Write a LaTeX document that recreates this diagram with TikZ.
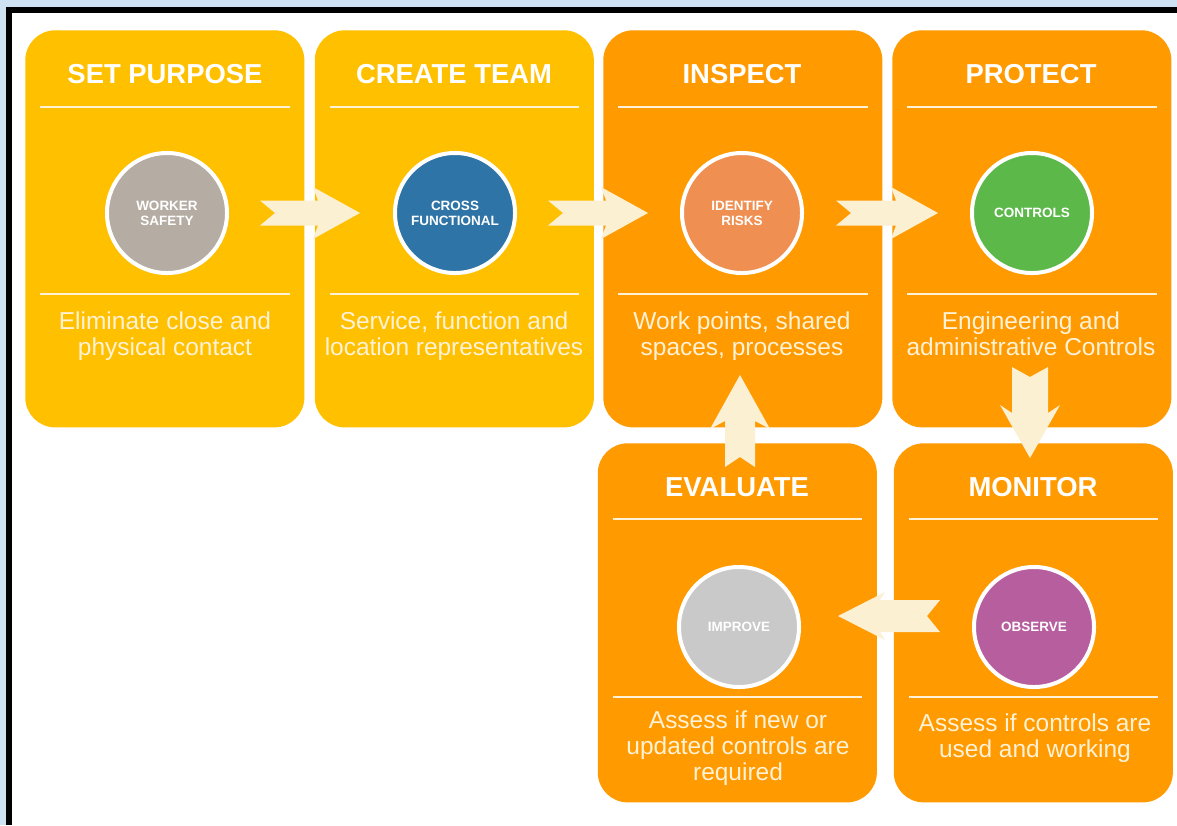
\documentclass[tikz,border=0pt]{standalone}
\usepackage{fontspec}
\setmainfont{Liberation Sans}
\usetikzlibrary{calc}

\definecolor{bgblue}{HTML}{CFE2F3}
\definecolor{boxyellow}{HTML}{FFC000}
\definecolor{boxorange}{HTML}{FF9A00}
\definecolor{cream}{HTML}{FFF2D6}
\definecolor{arrowcream}{HTML}{FCF0D2}
\definecolor{csafety}{HTML}{B5ADA4}
\definecolor{ccross}{HTML}{2F74A6}
\definecolor{crisk}{HTML}{EF9052}
\definecolor{cctrl}{HTML}{5DB84A}
\definecolor{cobserve}{HTML}{B75E9F}
\definecolor{cimprove}{HTML}{C9C9C9}

\tikzset{
  stage/.style={rectangle, rounded corners=7.5mm, anchor=north west,
    minimum width=6.975cm, inner sep=0pt},
  stagetitle/.style={font=\fontsize{19.5}{22}\selectfont\bfseries, text=white},
  stagedesc/.style={font=\fontsize{17.4}{18.8}\selectfont, text=cream,
    align=center, anchor=north, inner sep=0pt},
  badge/.style={circle, draw=white, line width=1mm, minimum size=3cm,
    inner sep=0pt, align=center, text=white,
    font=\fontsize{9.6}{10.7}\selectfont\bfseries},
  divider/.style={cream, line width=0.4mm}
}

% one px of the reference
\newcommand{\pxu}{0.25mm}
% notched block arrow: from, to, shaft, head, head length, sweep, notch (px)
\newcommand{\blockarrow}[7]{%
  \fill[arrowcream]
    ($(#1)!#3*\pxu!90:(#2)$) --
    ($(#2)!#5*\pxu!(#1)!#3*\pxu!90:(#2)$) --
    ($(#2)!#5*\pxu+#6*\pxu!(#1)!#4*\pxu!90:(#2)$) --
    (#2) --
    ($(#2)!#5*\pxu+#6*\pxu!(#1)!#4*\pxu!-90:(#2)$) --
    ($(#2)!#5*\pxu!(#1)!#3*\pxu!-90:(#2)$) --
    ($(#1)!#3*\pxu!-90:(#2)$) --
    ($(#1)!#7*\pxu!(#2)$) -- cycle;
}

\begin{document}
\begin{tikzpicture}[x=0.025cm, y=-0.025cm]
  \useasboundingbox (0,0) rectangle (1177,825);
  % Page frame: blue margin, black edge on the left and top
  \fill[bgblue] (0,0) rectangle (1177,825);
  \fill[black] (6,7) rectangle (1177,825);
  \fill[white] (12,13) rectangle (1177,825);

  % Top row of stages
  \foreach \nm/\x/\col in {setp/25/boxyellow, team/314.5/boxyellow,
                           insp/603/boxorange, prot/892/boxorange} {
    \node[stage, fill=\col, minimum height=9.925cm] (\nm) at (\x,30) {};
    \draw[divider] ($(\nm.north west)+(15,77)$) -- ($(\nm.north east)+(-15,77)$);
    \draw[divider] ($(\nm.north west)+(15,264)$) -- ($(\nm.north east)+(-15,264)$);
  }
  % Bottom row of stages
  \foreach \nm/\x in {eval/597.5, moni/893.5} {
    \node[stage, fill=boxorange, minimum height=8.975cm] (\nm) at (\x,443) {};
    \draw[divider] ($(\nm.north west)+(15,76)$) -- ($(\nm.north east)+(-15,76)$);
    \draw[divider] ($(\nm.north west)+(15,254)$) -- ($(\nm.north east)+(-15,254)$);
  }

  % Titles
  \node[stagetitle] (tsetp) at (165,74) {SET PURPOSE};
  \node[stagetitle] (tteam) at (454,74) {CREATE TEAM};
  \node[stagetitle] (tinsp) at (742,74) {INSPECT};
  \node[stagetitle] (tprot) at (1031,74) {PROTECT};
  \node[stagetitle] (teval) at (737,487) {EVALUATE};
  \node[stagetitle] (tmoni) at (1033,487) {MONITOR};

  % Circles
  \node[badge, fill=csafety] (csafe) at (167,213) {WORKER\\SAFETY};
  \node[badge, fill=ccross] (ccros) at (455,213) {CROSS\\FUNCTIONAL};
  \node[badge, fill=crisk] (crisk) at (742,213) {IDENTIFY\\RISKS};
  \node[badge, fill=cctrl] (cctrl) at (1032,213) {CONTROLS};
  \node[badge, fill=cimprove] (cimpr) at (739,627) {IMPROVE};
  \node[badge, fill=cobserve] (cobse) at (1034,627) {OBSERVE};

  % Descriptions
  \node[stagedesc] (dsetp) at (165,311) {Eliminate close and\\physical contact};
  \node[stagedesc] (dteam) at (454,311) {Service, function and\\location representatives};
  \node[stagedesc] (dinsp) at (742,311) {Work points, shared\\spaces, processes};
  \node[stagedesc] (dprot) at (1031,311) {Engineering and\\administrative Controls};
  \node[stagedesc] (deval) at (738,710) {Assess if new or\\updated controls are\\required};
  \node[stagedesc] (dmoni) at (1035,713) {Assess if controls are\\used and working};

  % Arrow ends
  \coordinate (a1s) at (260,213);  \coordinate (a1e) at (360,213);
  \coordinate (a2s) at (548,213);  \coordinate (a2e) at (648,213);
  \coordinate (a3s) at (836,213);  \coordinate (a3e) at (938,213);
  \coordinate (a4s) at (1030,367); \coordinate (a4e) at (1030,458);
  \coordinate (a5s) at (940,616);  \coordinate (a5e) at (838,616);
  \coordinate (a6s) at (740,467);  \coordinate (a6e) at (740,375);

  % Arrows between the stages
  \blockarrow{a1s}{a1e}{12.5}{26}{42}{5}{15}
  \blockarrow{a2s}{a2e}{12.5}{26}{42}{5}{15}
  \blockarrow{a3s}{a3e}{12.5}{26}{42}{5}{15}
  \blockarrow{a4s}{a4e}{18}{30}{45}{8}{10}
  \blockarrow{a5s}{a5e}{16}{24}{42}{5}{13}
  \blockarrow{a6s}{a6e}{15}{30}{46}{8}{10}
\end{tikzpicture}
\end{document}
